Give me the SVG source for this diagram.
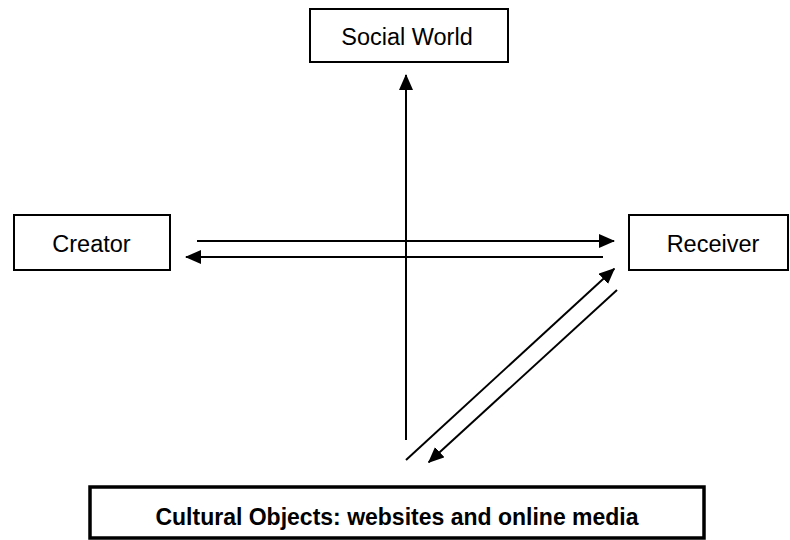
<svg xmlns="http://www.w3.org/2000/svg" width="790" height="540" viewBox="0 0 790 540">
  <style>
    .box { fill: #ffffff; stroke: #000000; stroke-width: 2; }
    .thick { fill: #ffffff; stroke: #000000; stroke-width: 3.5; }
    .lbl { font-family: "Liberation Sans", Arial, sans-serif; font-size: 23.5px; fill: #000000; text-anchor: middle; }
    .bold { font-family: "Liberation Sans", Arial, sans-serif; font-size: 23px; font-weight: bold; fill: #000000; text-anchor: middle; }
    .conn { stroke: #000000; stroke-width: 2; fill: none; }
  </style>
  <defs>
    <marker id="ah" markerUnits="userSpaceOnUse" markerWidth="16" markerHeight="14" refX="15" refY="7" orient="auto">
      <path d="M0,0 L16,7 L0,14 Z" fill="#000000"/>
    </marker>
  </defs>
  <rect width="790" height="540" fill="#ffffff"/>

  <g id="node-social-world">
    <rect class="box" x="310" y="9" width="198" height="53"/>
    <text class="lbl" x="407" y="45">Social World</text>
  </g>
  <g id="node-creator">
    <rect class="box" x="14" y="215" width="156" height="55"/>
    <text class="lbl" x="91.5" y="252">Creator</text>
  </g>
  <g id="node-receiver">
    <rect class="box" x="629" y="215" width="159" height="55"/>
    <text class="lbl" x="713" y="252">Receiver</text>
  </g>
  <g id="node-cultural-objects">
    <rect class="thick" x="90" y="487" width="614" height="51"/>
    <text class="bold" x="397" y="525">Cultural Objects: websites and online media</text>
  </g>

  <g id="connectors">
    <line class="conn" x1="197" y1="241" x2="614" y2="241" marker-end="url(#ah)"/>
    <line class="conn" x1="603" y1="257" x2="186" y2="257" marker-end="url(#ah)"/>
    <line class="conn" x1="406" y1="440" x2="406" y2="75" marker-end="url(#ah)"/>
    <line class="conn" x1="406" y1="460" x2="614.3" y2="268.7" marker-end="url(#ah)"/>
    <line class="conn" x1="617" y1="290" x2="428.7" y2="462.3" marker-end="url(#ah)"/>
  </g>
</svg>
